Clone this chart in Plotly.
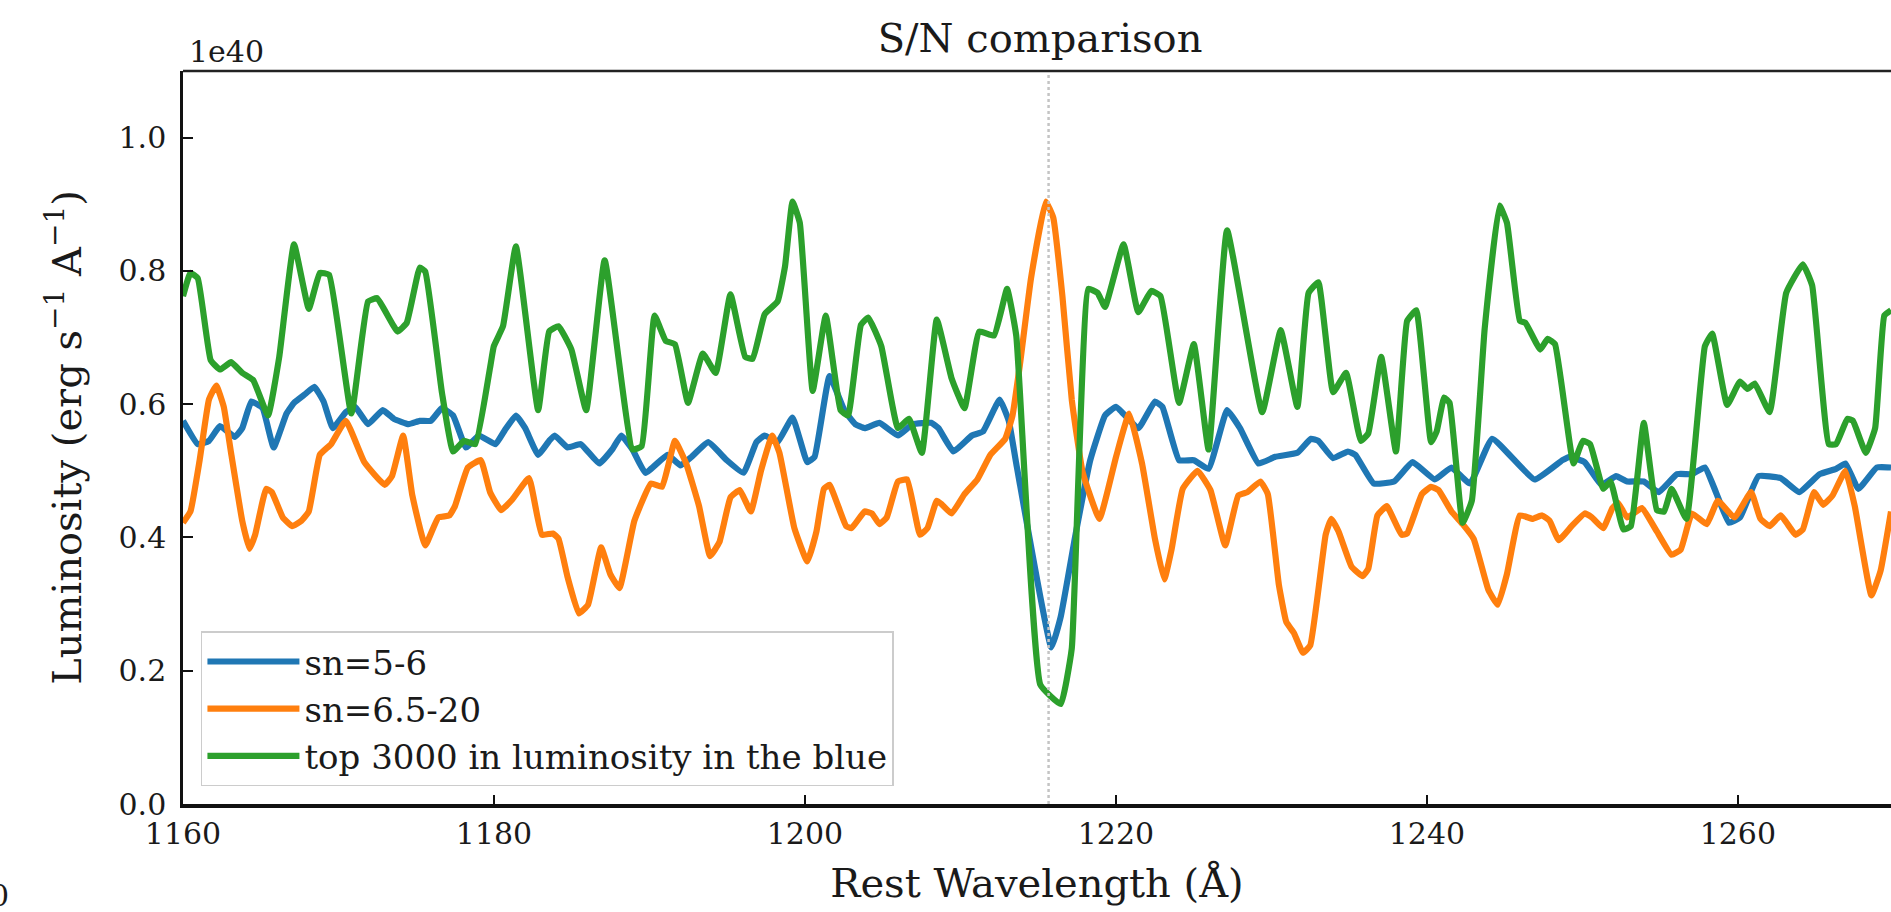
import plotly.graph_objects as go

# ---- data (luminosity in units of 1e40 erg s^-1 A^-1) ----
WAVE_SN56 = [1160.00, 1160.95, 1161.67, 1162.38, 1163.33, 1163.81, 1164.40, 1165.12, 1165.83, 1166.66,
             1167.14, 1167.85, 1168.45, 1169.04, 1169.64, 1170.47, 1171.06, 1171.90, 1172.85, 1173.56,
             1174.51, 1175.23, 1175.94, 1176.65, 1177.37, 1178.20, 1179.03, 1180.10, 1180.70, 1181.41,
             1182.01, 1182.84, 1183.55, 1183.91, 1184.74, 1185.58, 1186.77, 1187.60, 1188.19, 1188.91,
             1189.74, 1191.17, 1192.00, 1192.71, 1193.78, 1194.97, 1196.05, 1196.88, 1197.41, 1198.24,
             1199.20, 1200.15, 1200.62, 1201.58, 1202.53, 1203.24, 1203.84, 1204.79, 1205.98, 1206.93,
             1208.12, 1208.59, 1209.55, 1210.74, 1211.45, 1212.52, 1213.11, 1213.59, 1215.85, 1216.45,
             1217.40, 1218.35, 1219.30, 1220.01, 1221.44, 1222.51, 1222.99, 1224.06, 1225.01, 1225.96,
             1227.15, 1227.98, 1229.17, 1230.25, 1231.67, 1232.54, 1233.02, 1233.97, 1234.92, 1235.40,
             1236.58, 1237.89, 1239.08, 1240.51, 1241.58, 1242.77, 1244.20, 1246.93, 1248.72, 1249.19,
             1250.15, 1251.22, 1252.17, 1252.88, 1253.95, 1254.90, 1256.09, 1257.05, 1257.88, 1258.59,
             1259.43, 1260.14, 1261.33, 1262.76, 1263.95, 1265.26, 1266.32, 1266.92, 1267.75, 1268.94,
             1269.85]
LUM_SN56 = [0.575, 0.540, 0.545, 0.567, 0.551, 0.564, 0.604, 0.594, 0.535, 0.586,
            0.602, 0.615, 0.626, 0.604, 0.564, 0.588, 0.596, 0.570, 0.591, 0.578,
            0.570, 0.575, 0.575, 0.594, 0.583, 0.535, 0.553, 0.540, 0.561, 0.583,
            0.564, 0.524, 0.545, 0.553, 0.535, 0.540, 0.511, 0.532, 0.553, 0.532,
            0.497, 0.524, 0.508, 0.521, 0.543, 0.516, 0.497, 0.543, 0.553, 0.543,
            0.580, 0.513, 0.521, 0.642, 0.591, 0.570, 0.564, 0.572, 0.553, 0.570,
            0.572, 0.564, 0.529, 0.553, 0.559, 0.607, 0.575, 0.511, 0.235, 0.281,
            0.404, 0.516, 0.583, 0.596, 0.564, 0.604, 0.596, 0.516, 0.516, 0.503,
            0.591, 0.564, 0.511, 0.521, 0.527, 0.548, 0.545, 0.519, 0.529, 0.524,
            0.481, 0.484, 0.513, 0.487, 0.505, 0.481, 0.548, 0.487, 0.516, 0.521,
            0.513, 0.479, 0.492, 0.484, 0.484, 0.468, 0.495, 0.495, 0.505, 0.468,
            0.422, 0.430, 0.492, 0.489, 0.468, 0.495, 0.503, 0.511, 0.473, 0.505,
            0.505]

WAVE_SN6520 = [1160.00, 1160.48, 1161.07, 1161.67, 1162.14, 1162.62, 1163.09, 1163.81, 1164.28, 1164.64,
               1165.35, 1165.71, 1166.42, 1167.02, 1167.61, 1168.09, 1168.80, 1169.52, 1170.47, 1171.66,
               1172.97, 1173.44, 1174.16, 1174.75, 1175.58, 1176.42, 1177.13, 1177.49, 1178.32, 1179.15,
               1179.75, 1180.46, 1181.18, 1182.25, 1183.08, 1183.79, 1184.15, 1184.74, 1185.46, 1186.05,
               1186.89, 1187.48, 1188.07, 1189.03, 1190.10, 1190.81, 1191.64, 1192.36, 1193.19, 1193.90,
               1194.50, 1195.21, 1195.81, 1196.52, 1197.17, 1197.89, 1198.36, 1199.32, 1200.15, 1200.74,
               1201.22, 1201.58, 1202.65, 1203.00, 1203.84, 1204.31, 1204.79, 1205.26, 1205.98, 1206.57,
               1207.40, 1207.88, 1208.48, 1208.83, 1209.43, 1210.26, 1211.09, 1211.93, 1212.88, 1213.35,
               1213.83, 1214.54, 1215.49, 1215.97, 1216.56, 1217.16, 1217.87, 1218.94, 1220.01, 1220.85,
               1221.68, 1222.51, 1223.11, 1223.58, 1224.30, 1225.25, 1226.08, 1227.03, 1227.87, 1228.46,
               1229.29, 1229.77, 1230.48, 1230.96, 1231.44, 1232.03, 1232.50, 1233.49, 1233.85, 1234.32,
               1235.16, 1235.87, 1236.23, 1236.82, 1237.42, 1238.37, 1238.73, 1239.68, 1240.27, 1240.75,
               1241.58, 1242.30, 1243.01, 1243.96, 1244.56, 1245.15, 1245.98, 1246.82, 1247.41, 1247.89,
               1248.48, 1249.31, 1250.15, 1250.62, 1251.34, 1251.93, 1252.29, 1252.88, 1253.83, 1254.79,
               1255.74, 1256.33, 1257.05, 1258.00, 1258.71, 1259.78, 1260.85, 1261.45, 1262.04, 1262.76,
               1263.71, 1264.18, 1264.90, 1265.49, 1266.09, 1266.92, 1267.52, 1268.59, 1269.18, 1269.85]
LUM_SN6520 = [0.422, 0.439, 0.516, 0.607, 0.628, 0.596, 0.527, 0.425, 0.383, 0.404,
              0.473, 0.468, 0.430, 0.417, 0.425, 0.439, 0.524, 0.540, 0.575, 0.513,
              0.479, 0.492, 0.553, 0.463, 0.388, 0.430, 0.433, 0.447, 0.505, 0.516,
              0.468, 0.441, 0.457, 0.489, 0.404, 0.406, 0.398, 0.340, 0.286, 0.299,
              0.385, 0.345, 0.324, 0.425, 0.481, 0.476, 0.545, 0.511, 0.447, 0.372,
              0.393, 0.460, 0.471, 0.439, 0.500, 0.553, 0.527, 0.414, 0.364, 0.409,
              0.473, 0.479, 0.417, 0.414, 0.439, 0.436, 0.420, 0.430, 0.484, 0.487,
              0.404, 0.414, 0.455, 0.449, 0.436, 0.465, 0.487, 0.524, 0.548, 0.583,
              0.660, 0.789, 0.904, 0.880, 0.762, 0.607, 0.497, 0.428, 0.521, 0.586,
              0.511, 0.398, 0.337, 0.382, 0.473, 0.500, 0.471, 0.388, 0.463, 0.468,
              0.484, 0.465, 0.329, 0.273, 0.257, 0.227, 0.238, 0.404, 0.428, 0.409,
              0.356, 0.342, 0.353, 0.433, 0.447, 0.404, 0.406, 0.465, 0.476, 0.471,
              0.439, 0.420, 0.398, 0.321, 0.299, 0.345, 0.433, 0.428, 0.433, 0.425,
              0.396, 0.417, 0.436, 0.430, 0.414, 0.444, 0.452, 0.430, 0.444, 0.409,
              0.374, 0.382, 0.436, 0.420, 0.455, 0.430, 0.468, 0.428, 0.417, 0.433,
              0.404, 0.412, 0.468, 0.449, 0.463, 0.500, 0.447, 0.313, 0.350, 0.439]

WAVE_TOP3000 = [1160.00, 1160.48, 1160.95, 1161.78, 1162.38, 1163.09, 1163.81, 1164.52, 1165.47, 1166.19,
                1167.14, 1168.09, 1168.80, 1169.40, 1170.83, 1171.90, 1172.49, 1173.80, 1174.39, 1175.23,
                1175.58, 1176.65, 1177.37, 1178.08, 1178.80, 1179.75, 1179.99, 1180.58, 1181.41, 1182.84,
                1183.55, 1184.15, 1184.98, 1185.93, 1187.12, 1188.91, 1189.50, 1190.33, 1191.05, 1191.64,
                1192.48, 1193.43, 1194.26, 1195.21, 1196.16, 1196.64, 1197.41, 1198.24, 1198.72, 1199.20,
                1199.67, 1200.50, 1201.34, 1202.29, 1202.77, 1203.60, 1204.07, 1204.91, 1205.98, 1206.69,
                1207.52, 1208.48, 1209.43, 1210.26, 1211.21, 1212.16, 1213.00, 1213.59, 1215.14, 1216.45,
                1217.16, 1218.23, 1218.82, 1219.30, 1220.49, 1221.44, 1222.27, 1222.87, 1224.06, 1225.01,
                1225.96, 1227.15, 1229.41, 1230.60, 1231.67, 1232.39, 1233.02, 1233.97, 1234.80, 1235.75,
                1236.23, 1237.06, 1238.01, 1238.73, 1239.32, 1240.27, 1240.63, 1241.11, 1241.46, 1242.30,
                1242.89, 1243.72, 1244.67, 1245.15, 1245.98, 1246.34, 1247.29, 1247.77, 1248.24, 1249.43,
                1250.03, 1250.50, 1251.34, 1251.81, 1252.64, 1253.12, 1253.95, 1254.79, 1255.26, 1255.74,
                1256.69, 1257.88, 1258.35, 1259.31, 1260.14, 1260.62, 1261.09, 1262.04, 1263.11, 1264.18,
                1264.78, 1265.85, 1266.32, 1267.04, 1267.40, 1268.23, 1268.83, 1269.42, 1269.85]
LUM_TOP3000 = [0.762, 0.797, 0.789, 0.666, 0.652, 0.663, 0.647, 0.636, 0.583, 0.671,
               0.840, 0.743, 0.797, 0.794, 0.586, 0.754, 0.759, 0.709, 0.722, 0.805,
               0.799, 0.618, 0.529, 0.545, 0.540, 0.655, 0.687, 0.717, 0.837, 0.591,
               0.709, 0.717, 0.682, 0.591, 0.816, 0.532, 0.537, 0.733, 0.695, 0.690,
               0.602, 0.676, 0.647, 0.765, 0.671, 0.668, 0.735, 0.754, 0.807, 0.904,
               0.872, 0.620, 0.733, 0.591, 0.583, 0.719, 0.730, 0.687, 0.564, 0.578,
               0.527, 0.727, 0.639, 0.594, 0.709, 0.703, 0.773, 0.703, 0.179, 0.150,
               0.233, 0.773, 0.767, 0.746, 0.840, 0.738, 0.770, 0.762, 0.602, 0.690,
               0.532, 0.861, 0.588, 0.711, 0.596, 0.767, 0.783, 0.618, 0.647, 0.545,
               0.556, 0.671, 0.529, 0.725, 0.741, 0.543, 0.559, 0.610, 0.602, 0.422,
               0.455, 0.714, 0.898, 0.872, 0.725, 0.722, 0.682, 0.698, 0.690, 0.511,
               0.545, 0.540, 0.473, 0.484, 0.412, 0.417, 0.572, 0.441, 0.439, 0.473,
               0.428, 0.687, 0.706, 0.599, 0.634, 0.623, 0.631, 0.588, 0.767, 0.810,
               0.778, 0.540, 0.540, 0.578, 0.575, 0.527, 0.564, 0.733, 0.741]

SERIES_NAMES = ["sn=5-6", "sn=6.5-20", "top 3000 in luminosity in the blue"]
SERIES_COLORS = ["#1f77b4", "#ff7f0e", "#2ca02c"]
LYA = 1215.67
X_TICKS = [1160, 1180, 1200, 1220, 1240, 1260]
Y_TICKS = [0.0, 0.2, 0.4, 0.6, 0.8, 1.0]
X_RANGE = [1160, 1269.85]
Y_RANGE = [0, 1.1]

FONT = "DejaVu Serif"
TXT = "#1a1a1a"

fig = go.Figure()
for name, color, xs, ys in zip(SERIES_NAMES, SERIES_COLORS,
                               [WAVE_SN56, WAVE_SN6520, WAVE_TOP3000],
                               [LUM_SN56, LUM_SN6520, LUM_TOP3000]):
    fig.add_trace(go.Scatter(x=xs, y=ys, mode="lines", name=name, legendgroup=name,
                             line=dict(color=color, width=6.2, shape="spline", smoothing=0.35)))

# Lyman-alpha marker line
fig.add_shape(type="line", xref="x", yref="paper", x0=LYA, x1=LYA, y0=0, y1=1,
              line=dict(color="#c4c4c4", width=2.5, dash="dot"), layer="above")
# top spine
fig.add_shape(type="line", xref="paper", yref="paper", x0=0, x1=1, y0=1, y1=1,
              line=dict(color="#222222", width=2.5))

fig.update_layout(
    width=1891, height=912, autosize=False,
    margin=dict(l=183, r=0, t=71, b=108),
    paper_bgcolor="white", plot_bgcolor="white",
    font=dict(family=FONT, color=TXT, size=30),
    title=dict(text="S/N comparison", font=dict(family=FONT, size=40, color=TXT),
               x=0.5018, xref="paper", xanchor="center",
               y=1 - 38 / 912, yref="container", yanchor="middle"),
    showlegend=True,
    legend=dict(x=0.0105, y=0.024, xanchor="left", yanchor="bottom",
                bgcolor="rgba(255,255,255,0.85)", bordercolor="#cccccc", borderwidth=1.5,
                font=dict(family=FONT, size=34, color=TXT),
                itemwidth=92, tracegroupgap=4, traceorder="normal"),
    xaxis=dict(range=X_RANGE, tickvals=X_TICKS, ticktext=[str(v) for v in X_TICKS],
               ticks="inside", ticklen=9, tickwidth=2, tickcolor="#111111",
               showline=True, linewidth=4, linecolor="#111111", mirror=False,
               showgrid=False, zeroline=False, ticklabelstandoff=0,
               tickfont=dict(family=FONT, size=30, color=TXT),
               title=dict(text="Rest Wavelength (Å)", font=dict(family=FONT, size=40, color=TXT),
                          standoff=20)),
    yaxis=dict(range=Y_RANGE, tickvals=Y_TICKS, ticktext=["%.1f" % v for v in Y_TICKS],
               ticks="inside", ticklen=10, tickwidth=2, tickcolor="#111111",
               showline=True, linewidth=2.5, linecolor="#111111", mirror=False,
               showgrid=False, zeroline=False, ticklabelstandoff=8,
               tickfont=dict(family=FONT, size=30, color=TXT),
               title=dict(text="Luminosity (erg s<sup>−1</sup> A<sup>−1</sup>)",
                          font=dict(family=FONT, size=40, color=TXT), standoff=25)),
)

fig.add_annotation(text="1e40", xref="paper", yref="paper", x=0.0023, y=(804 - 52) / 733,
                   xanchor="left", yanchor="middle", showarrow=False,
                   font=dict(family=FONT, size=30, color=TXT))
fig.add_annotation(text="0", xref="paper", yref="paper", x=(11 - 183) / 1708, y=(804 - 895) / 733,
                   xanchor="right", yanchor="middle", showarrow=False,
                   font=dict(family=FONT, size=30, color=TXT))

fig.write_html("out.html")
